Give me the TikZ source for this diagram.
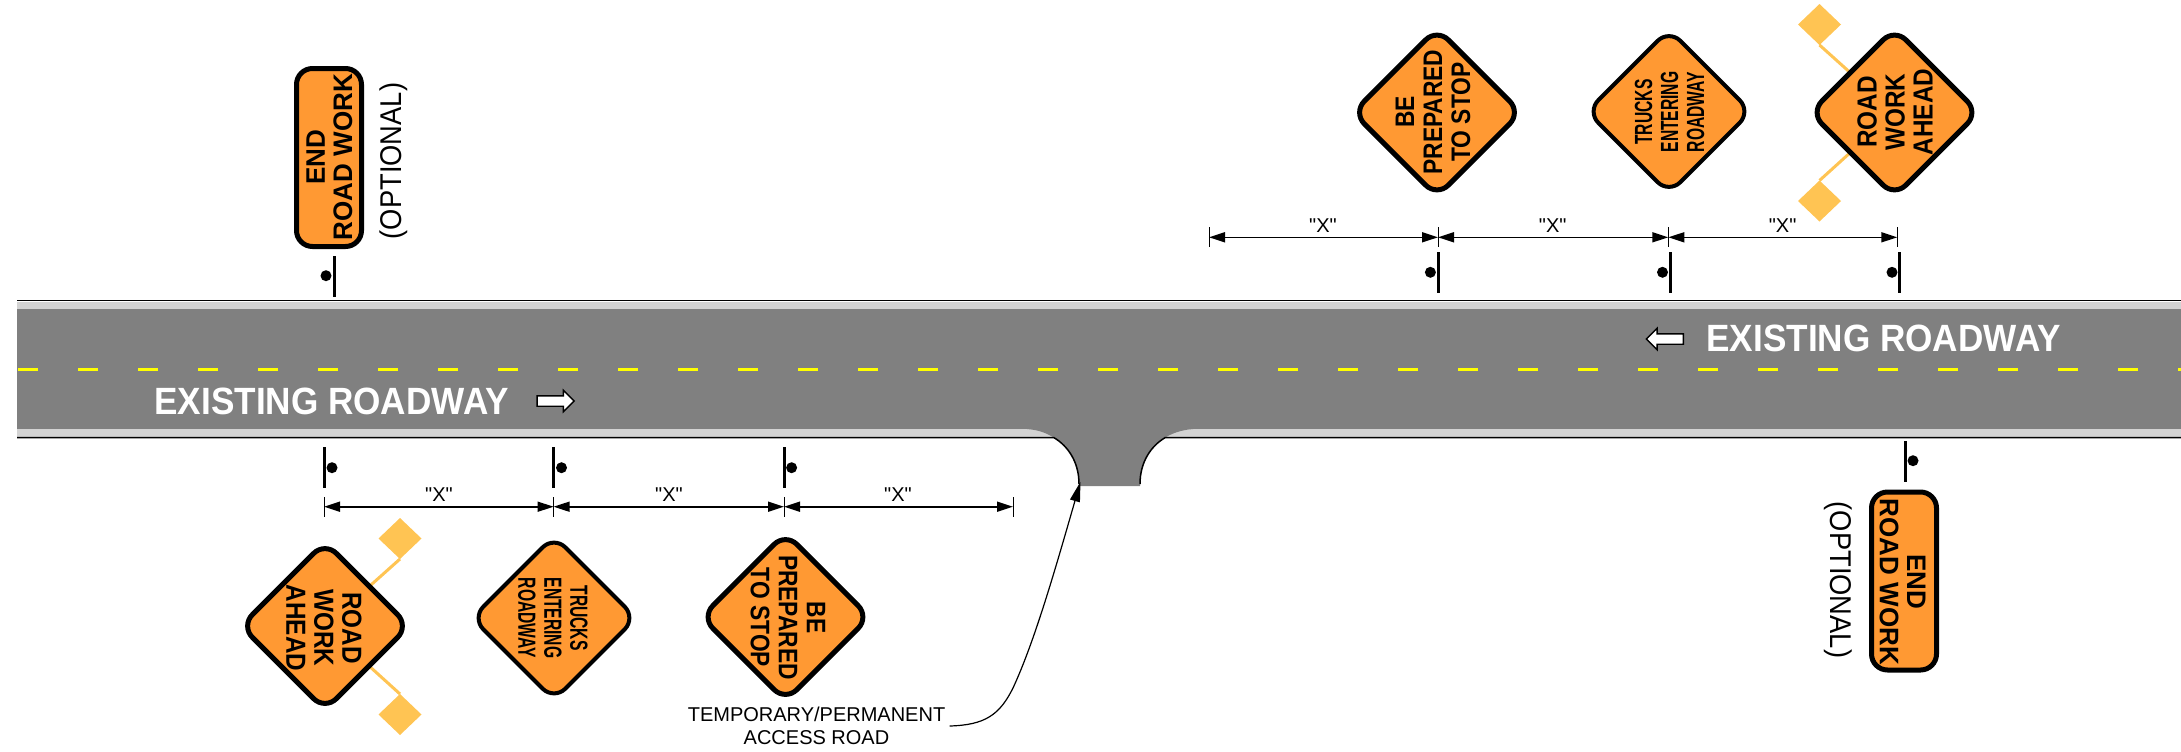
\documentclass[tikz,border=0pt]{standalone}
\usepackage{fontspec}
\setmainfont{Liberation Sans}
\newfontfamily\plainsans{Liberation Sans}
\usetikzlibrary{arrows.meta,shapes.geometric,shapes.arrows}
\definecolor{signorange}{HTML}{FF9933}
\definecolor{flagyellow}{HTML}{FFC453}
\definecolor{roadgray}{HTML}{808080}
\definecolor{shoulder}{HTML}{D3D3D3}
\definecolor{laneyellow}{HTML}{FFFF00}
\newcommand\hs[2]{\scalebox{#1}[1]{#2}}
\tikzset{
  diasign/.style={shape=diamond,shape aspect=1,draw=black,fill=signorange,line width=2.5pt,rounded corners=8pt,minimum width=84pt,minimum height=84pt,inner sep=0pt,outer sep=0pt},
  diasignsmall/.style={diasign,minimum width=82pt,minimum height=82pt,line width=2pt},
  endsign/.style={shape=rectangle,draw=black,fill=signorange,line width=2.5pt,rounded corners=8pt,minimum width=32.5pt,minimum height=89pt,inner sep=0pt,outer sep=0pt},
  signtext/.style={align=center,inner sep=0pt,font=\fontsize{13.4}{14}\selectfont\bfseries},
  worktext/.style={align=center,inner sep=0pt,font=\fontsize{13.8}{14}\selectfont\bfseries},
  smalltext/.style={align=center,inner sep=0pt,font=\fontsize{12.4}{13}\selectfont\bfseries},
  endtext/.style={align=center,inner sep=0pt,font=\fontsize{13.4}{13.6}\selectfont\bfseries},
  opttext/.style={inner sep=0pt,font=\fontsize{15}{16}\selectfont},
  roadtext/.style={inner sep=0pt,text=white,font=\fontsize{19}{21}\selectfont\bfseries},
  xlabel/.style={inner sep=0pt,font=\plainsans\fontsize{10}{12}\selectfont},
  notelabel/.style={align=center,inner sep=0pt,font=\fontsize{10}{11.3}\selectfont},
  flag/.style={shape=diamond,shape aspect=1,fill=flagyellow,minimum width=21.5pt,minimum height=20.5pt,inner sep=0pt,outer sep=0pt},
  flagpole/.style={draw=flagyellow,line width=1.5pt},
  post/.style={shape=rectangle,fill=black,minimum width=1.5pt,minimum height=20.5pt,inner sep=0pt,outer sep=0pt},
  postdot/.style={shape=circle,fill=black,minimum size=5.5pt,inner sep=0pt,outer sep=0pt},
  tick/.style={shape=rectangle,fill=black,minimum width=.5pt,minimum height=10pt,inner sep=0pt,outer sep=0pt},
  dimline/.style={draw=black,line width=.8pt,{Triangle[length=8pt,width=5pt]}-{Triangle[length=8pt,width=5pt]}},
  leader/.style={draw=black,line width=.6pt,-{Triangle[length=10pt,width=5pt]}},
  roadarrow/.style={shape=single arrow,draw=black,fill=white,line width=.7pt,minimum height=18.5pt,minimum width=10pt,single arrow head extend=2.75pt,single arrow head indent=0pt,inner xsep=0pt,inner ysep=2.25pt,outer sep=0pt}
}
\begin{document}
\begin{tikzpicture}[x=.5pt,y=-.5pt]
\useasboundingbox (0,0) rectangle (2181,751);
% road
\fill[roadgray] (17,302) rectangle (2181,437);
\fill[shoulder] (17,302) rectangle (2181,309);
\fill[shoulder] (17,429) rectangle (2181,437);
\fill[roadgray] (1027,429) .. controls (1040,430) and (1048,434) .. (1054,437.7)
  .. controls (1068,446) and (1079,462) .. (1079,486) -- (1140,486)
  .. controls (1140,462) and (1151,446) .. (1165,437.7)
  .. controls (1171,434) and (1180,430) .. (1193,429) -- cycle;
\draw[black,line width=.75pt] (17,300.7) -- (2181,300.7);
\draw[black,line width=.75pt] (17,437.7) -- (1054,437.7) .. controls (1068,446) and (1079,462) .. (1079,484);
\draw[black,line width=.75pt] (2181,437.7) -- (1165,437.7) .. controls (1151,446) and (1140,462) .. (1140,484);
\draw[laneyellow,line width=1.4pt,dash pattern=on 10pt off 20pt] (18,369.3) -- (2181,369.3);
% road labels
\node[roadtext] (rl) at (331.5,401.5) {\hs{.925}{EXISTING ROADWAY}};
\node[roadtext] (rr) at (1883.5,338.5) {\hs{.925}{EXISTING ROADWAY}};
\node[roadarrow] (al) at (553,401) {};
\node[roadarrow,shape border rotate=180] (ar) at (1667.5,339) {};
% flags, lower left
\node[flag] (f1) at (400,538.5) {};
\node[flag] (f2) at (400,714.5) {};
\coordinate (c1) at (325,626);
\draw[flagpole] (f1.south) -- (c1);
\draw[flagpole] (f2.north) -- (c1);
% flags, upper right
\node[flag] (f3) at (1819.5,24.5) {};
\node[flag] (f4) at (1819.5,201) {};
\coordinate (c2) at (1894.5,112.5);
\draw[flagpole] (f3.south) -- (c2);
\draw[flagpole] (f4.north) -- (c2);
% lower signs
\node[diasign] (s1) at (c1) {};
\node[worktext,rotate=-90] (t1) at (324,628) {\hs{.88}{ROAD}\\\hs{.88}{WORK}\\\hs{.88}{AHEAD}};
\node[diasignsmall] (s2) at (554,618) {};
\node[smalltext,rotate=-90] (t2) at (553,618) {\hs{.63}{TRUCKS}\\\hs{.63}{ENTERING}\\\hs{.63}{ROADWAY}};
\node[diasign] (s3) at (785.5,617) {};
\node[signtext,rotate=-90] (t3) at (788,617.5) {\hs{.85}{BE}\\\hs{.85}{PREPARED}\\\hs{.85}{TO STOP}};
% upper signs
\node[diasign] (s4) at (1437,112.5) {};
\node[signtext,rotate=90] (t4) at (1433,112) {\hs{.85}{BE}\\\hs{.85}{PREPARED}\\\hs{.85}{TO STOP}};
\node[diasignsmall] (s5) at (1669,111.5) {};
\node[smalltext,rotate=90] (t5) at (1669.5,112) {\hs{.63}{TRUCKS}\\\hs{.63}{ENTERING}\\\hs{.63}{ROADWAY}};
\node[diasign] (s6) at (c2) {};
\node[worktext,rotate=90] (t6) at (1895,112) {\hs{.88}{ROAD}\\\hs{.88}{WORK}\\\hs{.88}{AHEAD}};
% end signs
\node[endsign] (e1) at (329,157.5) {};
\node[endtext,rotate=90] (et1) at (329.5,157) {\hs{.97}{END}\\\hs{.97}{ROAD WORK}};
\node[opttext,rotate=90] (o1) at (394,161) {\hs{.91}{(OPTIONAL)}};
\node[endsign] (e2) at (1904,581) {};
\node[endtext,rotate=-90] (et2) at (1902.5,582) {\hs{.97}{END}\\\hs{.97}{ROAD WORK}};
\node[opttext,rotate=-90] (o2) at (1838.5,580) {\hs{.91}{(OPTIONAL)}};
% posts
\node[post] (p1) at (334,276) {};      \node[postdot] (q1) at (326,275.7) {};
\node[post] (p2) at (1438.8,272.3) {}; \node[postdot] (q2) at (1430.4,272.3) {};
\node[post] (p3) at (1670,272.3) {};   \node[postdot] (q3) at (1662.5,272.3) {};
\node[post] (p4) at (1899.5,272.3) {}; \node[postdot] (q4) at (1892,272.3) {};
\node[post] (p5) at (324,467.5) {};    \node[postdot] (q5) at (332,467.7) {};
\node[post] (p6) at (553.6,467.5) {};  \node[postdot] (q6) at (561.5,467.7) {};
\node[post] (p7) at (784,467.5) {};    \node[postdot] (q7) at (791.6,467.7) {};
\node[post] (p8) at (1905,461) {};     \node[postdot] (q8) at (1913,460.7) {};
% dimensions, lower
\node[tick] (a0) at (324,506.7) {};
\node[tick] (a1) at (553.6,506.7) {};
\node[tick] (a2) at (784,506.7) {};
\node[tick] (a3) at (1013,506.7) {};
\draw[dimline] (a0.center) -- (a1.center);
\draw[dimline] (a1.center) -- (a2.center);
\draw[dimline] (a2.center) -- (a3.center);
\node[xlabel] (x1) at (439,494.7) {"X"};
\node[xlabel] (x2) at (669,494.7) {"X"};
\node[xlabel] (x3) at (898,494.7) {"X"};
% dimensions, upper
\node[tick] (b0) at (1209,237.3) {};
\node[tick] (b1) at (1438,237.3) {};
\node[tick] (b2) at (1668.3,237.3) {};
\node[tick] (b3) at (1897.3,237.3) {};
\draw[dimline] (b0.center) -- (b1.center);
\draw[dimline] (b1.center) -- (b2.center);
\draw[dimline] (b2.center) -- (b3.center);
\node[xlabel] (x4) at (1323,226) {"X"};
\node[xlabel] (x5) at (1552.7,226) {"X"};
\node[xlabel] (x6) at (1782.6,226) {"X"};
% access road note
\node[notelabel] (n) at (816.5,726) {TEMPORARY/PERMANENT\\ACCESS ROAD};
\coordinate (acc) at (1080.5,481.7);
\draw[leader] ([xshift=2pt]n.east) .. controls (985,725) and (1000,715) .. (1013.6,686.7)
  .. controls (1035,640) and (1055,570) .. (acc);
\end{tikzpicture}
\end{document}
